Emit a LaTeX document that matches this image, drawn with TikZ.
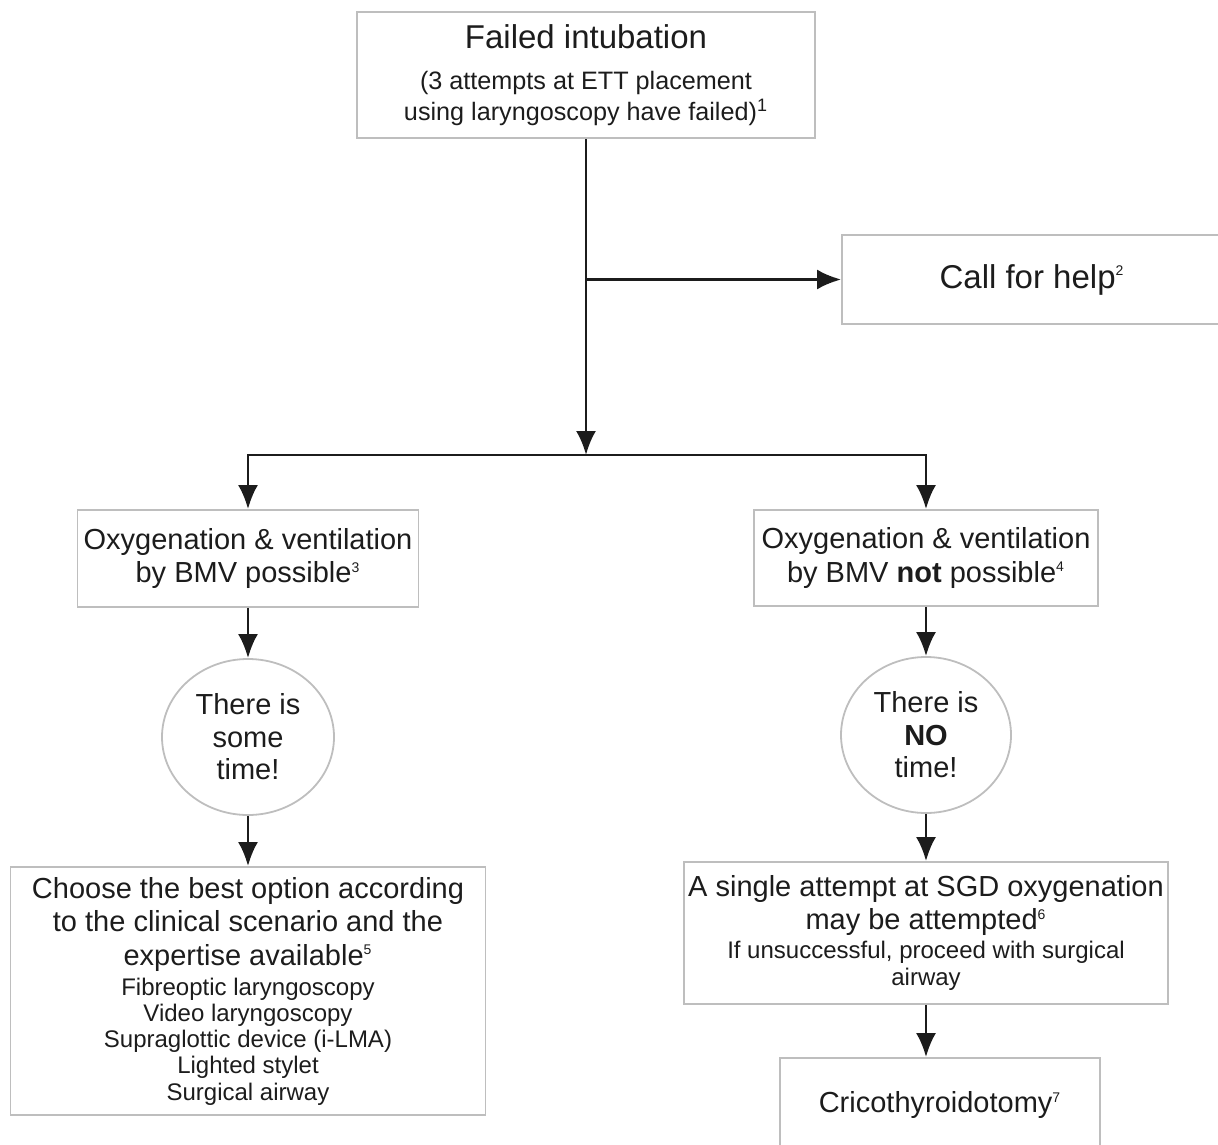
\documentclass[tikz,border=0pt]{standalone}
\usepackage{fontspec}
\setmainfont{Liberation Sans}
\usetikzlibrary{shapes.geometric, arrows.meta, positioning}
\usepackage{xcolor}
\definecolor{edgegray}{RGB}{190,190,190}
\definecolor{inkcolor}{RGB}{28,28,28}
\newcommand{\fnote}[1]{\textsuperscript{\fontsize{7}{7}\selectfont #1}}
\newcommand{\hdsize}{\fontsize{16.5}{19}\selectfont}
\newcommand{\lgsize}{\fontsize{14.5}{16.8}\selectfont}
\newcommand{\smsize}{\fontsize{12}{13.3}\selectfont}

\begin{document}
\begin{tikzpicture}[
    x=0.5pt, y=-0.5pt,
    box/.style={rectangle, draw=edgegray, line width=0.9pt, align=center, inner sep=2pt, text=inkcolor, font=\lgsize},
    oval/.style={ellipse, draw=edgegray, line width=0.9pt, align=center, inner sep=0pt, text=inkcolor, font=\lgsize, minimum width=86pt, minimum height=78pt},
    arrow/.style={-{Latex[length=12pt, width=10pt]}, line width=1.4pt, draw=inkcolor}
]
\useasboundingbox (0,0) rectangle (1218,1144);
\clip (0,0) rectangle (1218,1144);

\node[box, font=\fontsize{12.6}{15.5}\selectfont, minimum width=229pt, minimum height=63pt] (failed) at (586,75)
    {\hdsize Failed intubation\\[5pt]
     (3 attempts at ETT placement\\
     using laryngoscopy have failed)\textsuperscript{\fontsize{9}{9}\selectfont 1}};
\node[box, minimum width=190pt, minimum height=44.5pt] (help) at (1032,279.5) {\hdsize Call for help\fnote{2}};

\coordinate (split) at (586,455);
\coordinate (tap) at (failed.south |- help.west);

\node[box, minimum width=170.5pt, minimum height=48.5pt] (bmvyes) at (248,558.5)
    {Oxygenation \& ventilation\\ by BMV possible\fnote{3}};
\node[box, minimum width=172pt, minimum height=48pt] (bmvno) at (926,558)
    {Oxygenation \& ventilation\\ by BMV \textbf{not} possible\fnote{4}};

\node[oval] (sometime) at (248,737) {There is\\[-0.5pt] some\\[-0.5pt] time!};
\node[oval, minimum width=85pt] (notime) at (926,735) {There is\\[-0.5pt] \bfseries NO\\[-0.5pt] time!};

\node[box, minimum width=237.5pt, minimum height=124pt] (options) at (248,991)
    {Choose the best option according\\
     to the clinical scenario and the\\
     expertise available\fnote{5}\\[-1.8pt]
     \smsize Fibreoptic laryngoscopy\\[-3.7pt]
     \smsize Video laryngoscopy\\[-3.7pt]
     \smsize Supraglottic device (i-LMA)\\[-3.7pt]
     \smsize Lighted stylet\\[-3.7pt]
     \smsize Surgical airway};
\node[box, minimum width=238pt, minimum height=71pt] (sgd) at (926,933)
    {A single attempt at SGD oxygenation\\
     may be attempted\fnote{6}\\[-2.3pt]
     \smsize If unsuccessful, proceed with surgical\\[-3.3pt]
     \smsize airway};
\node[box, minimum width=160pt, minimum height=47pt] (crico) at (940,1105) {Cricothyroidotomy\fnote{7}};

% connectors
\draw[arrow] (failed.south) -- (split);
\draw[arrow] (tap) -- (help.west);
\draw[arrow] (split) -| (bmvyes.north);
\draw[arrow] (split) -| (bmvno.north);
\draw[arrow] (bmvyes.south) -- (sometime.north);
\draw[arrow] (sometime.south) -- (options.north);
\draw[arrow] (bmvno.south) -- (notime.north);
\draw[arrow] (notime.south) -- (sgd.north);
\draw[arrow] (sgd.south) -- (sgd.south |- crico.north);
\end{tikzpicture}
\end{document}
